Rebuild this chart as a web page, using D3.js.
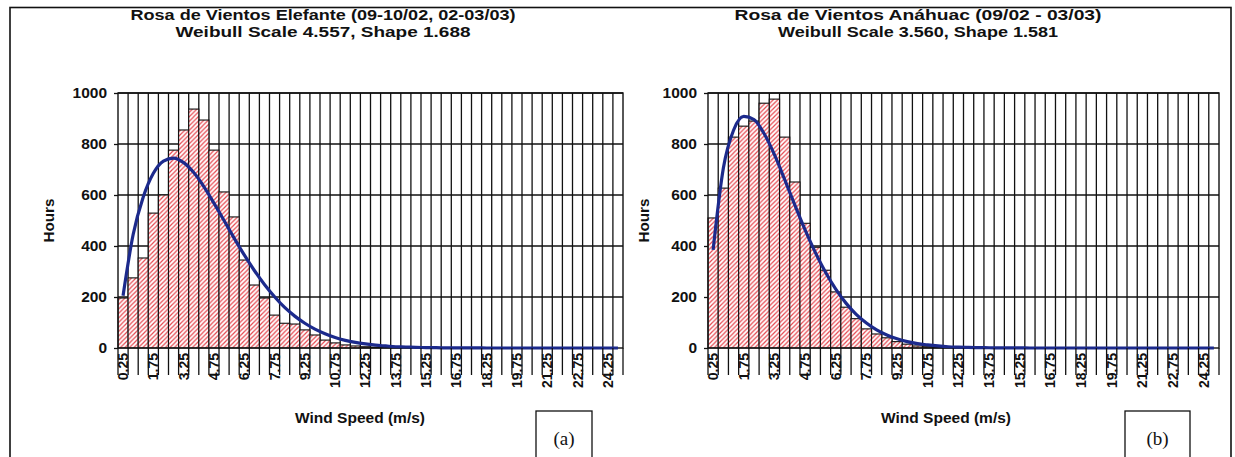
<!DOCTYPE html>
<html>
<head>
<meta charset="utf-8">
<script src="https://cdn.jsdelivr.net/npm/d3@7"></script>
<style>
  html, body { margin: 0; padding: 0; background: #fff; }
  svg { display: block; }
  text { font-family: "Liberation Sans", Arial, sans-serif; font-weight: 700; fill: #111; }
  text.tag { font-family: "Liberation Serif", "Times New Roman", serif; font-weight: 400; }
</style>
</head>
<body>
<svg id="fig" width="1235" height="457"></svg>
<script>
// Wind speed bins (m/s), bin centres
const speedBins = [0.25, 0.75, 1.25, 1.75, 2.25, 2.75, 3.25, 3.75, 4.25, 4.75,
  5.25, 5.75, 6.25, 6.75, 7.25, 7.75, 8.25, 8.75, 9.25, 9.75,
  10.25, 10.75, 11.25, 11.75, 12.25, 12.75, 13.25, 13.75, 14.25, 14.75,
  15.25, 15.75, 16.25, 16.75, 17.25, 17.75, 18.25, 18.75, 19.25, 19.75,
  20.25, 20.75, 21.25, 21.75, 22.25, 22.75, 23.25, 23.75, 24.25, 24.75];

// Labelled bins on the category axis
const speedTickLabels = ["0.25", "1.75", "3.25", "4.75", "6.25", "7.75", "9.25", "10.75",
  "12.25", "13.75", "15.25", "16.75", "18.25", "19.75", "21.25", "22.75", "24.25"];

const hoursTicks = [0, 200, 400, 600, 800, 1000];

// Elefante: measured hours per bin and fitted Weibull curve
const elefanteHours = [196, 275, 353, 529, 600, 776, 855, 937, 894, 776,
  612, 514, 345, 247, 196, 129, 97, 94, 71, 51,
  31, 20, 12, 8, 5, 3, 2, 1, 1, 0,
  0, 0, 0, 0, 0, 0, 0, 0, 0, 0,
  0, 0, 0, 0, 0, 0, 0, 0, 0, 0];
const elefanteFit = [205, 445, 592, 685, 733, 745, 727, 688, 633, 568,
  500, 431, 365, 304, 249, 201, 159, 125, 97, 74,
  56, 41, 30, 22, 16, 11, 8, 5, 4, 2.5,
  1.7, 1.1, 0.7, 0.5, 0.3, 0.2, 0.1, 0.1, 0, 0,
  0, 0, 0, 0, 0, 0, 0, 0, 0, 0];

// Anáhuac: measured hours per bin and fitted Weibull curve
const anahuacHours = [510, 627, 827, 870, 890, 960, 976, 827, 651, 489,
  395, 305, 220, 160, 115, 75, 55, 40, 25, 15,
  8, 5, 3, 2, 1, 1, 0, 0, 0, 0,
  0, 0, 0, 0, 0, 0, 0, 0, 0, 0,
  0, 0, 0, 0, 0, 0, 0, 0, 0, 0];
const anahuacFit = [385, 705, 854, 908, 896, 840, 758, 661, 560, 463,
  375, 297, 231, 176, 132, 98, 71, 51, 36, 25,
  17, 12, 8, 5, 3.4, 2.2, 1.4, 0.9, 0.6, 0.4,
  0.2, 0.1, 0.1, 0, 0, 0, 0, 0, 0, 0,
  0, 0, 0, 0, 0, 0, 0, 0, 0, 0];

const panels = [
  {
    id: "elefante",
    title1: "Rosa de Vientos Elefante (09-10/02, 02-03/03)",
    title2: "Weibull Scale 4.557, Shape 1.688",
    titleWidths: [385, 295],
    hours: elefanteHours, fit: elefanteFit,
    left: 118, right: 623, titleX: 323, hoursX: 48, xTitleX: 360,
    tag: "(a)", tagBox: [536, 411, 56, 60]
  },
  {
    id: "anahuac",
    title1: "Rosa de Vientos Anáhuac (09/02 - 03/03)",
    title2: "Weibull Scale 3.560, Shape 1.581",
    titleWidths: [367, 280],
    hours: anahuacHours, fit: anahuacFit,
    left: 708, right: 1219, titleX: 918, hoursX: 643, xTitleX: 946,
    tag: "(b)", tagBox: [1125, 411, 65, 60]
  }
];

const svg = d3.select("#fig");
const plotTop = 93, plotBottom = 348;

// hatch fill used by the histogram columns
const defs = svg.append("defs");
const pat = defs.append("pattern")
  .attr("id", "hatch")
  .attr("patternUnits", "userSpaceOnUse")
  .attr("width", 4.5).attr("height", 4.5);
pat.append("rect").attr("width", 4.5).attr("height", 4.5).attr("fill", "#fff");
pat.append("path")
  .attr("d", "M-1,5.5 L5.5,-1 M-1,1 L1,-1 M3.5,5.5 L5.5,3.5")
  .attr("stroke", "#e6474f").attr("stroke-width", 1.2);

// outer frame
svg.append("rect")
  .attr("x", 10).attr("y", 7.5).attr("width", 1221).attr("height", 470)
  .attr("fill", "none").attr("stroke", "#111").attr("stroke-width", 1.6);

panels.forEach(p => {
  const g = svg.append("g").attr("class", p.id);

  const x = d3.scaleBand().domain(speedBins).range([p.left, p.right]).padding(0);
  const y = d3.scaleLinear().domain([0, 1000]).range([plotBottom, plotTop]);
  const bw = x.bandwidth();

  // titles
  [p.title1, p.title2].forEach((t, k) => {
    g.append("text").attr("x", p.titleX).attr("y", 20 + 17 * k)
      .attr("text-anchor", "middle").attr("font-size", 15.5)
      .attr("textLength", p.titleWidths[k]).attr("lengthAdjust", "spacingAndGlyphs")
      .text(t);
  });

  // horizontal gridlines
  g.append("g").selectAll("line").data(hoursTicks.filter(d => d > 0)).join("line")
    .attr("x1", p.left).attr("x2", p.right)
    .attr("y1", d => y(d)).attr("y2", d => y(d))
    .attr("stroke", "#111").attr("stroke-width", 1.4);

  // vertical gridlines at every bin boundary
  g.append("g").selectAll("line").data(speedBins.slice(1)).join("line")
    .attr("x1", d => x(d)).attr("x2", d => x(d))
    .attr("y1", plotTop).attr("y2", plotBottom)
    .attr("stroke", "#111").attr("stroke-width", 1.3);

  // columns
  g.append("g").selectAll("rect").data(p.hours.map((v, i) => ({ bin: speedBins[i], v })))
    .join("rect")
    .filter(d => d.v > 0)
    .attr("x", d => x(d.bin)).attr("width", bw)
    .attr("y", d => y(d.v)).attr("height", d => y(0) - y(d.v))
    .attr("fill", "url(#hatch)").attr("stroke", "#111").attr("stroke-width", 1.1);

  // plot border
  g.append("rect").attr("x", p.left).attr("y", plotTop)
    .attr("width", p.right - p.left).attr("height", plotBottom - plotTop)
    .attr("fill", "none").attr("stroke", "#111").attr("stroke-width", 1.4);

  // fitted Weibull curve
  const line = d3.line()
    .x((d, i) => x(speedBins[i]) + bw / 2)
    .y(d => y(d))
    .curve(d3.curveMonotoneX);
  g.append("path").datum(p.fit).attr("d", line)
    .attr("fill", "none").attr("stroke", "#1c2a8c").attr("stroke-width", 3.2);

  // y axis
  const yAxis = d3.axisLeft(y).tickValues(hoursTicks).tickSize(4).tickPadding(7)
    .tickFormat(d3.format("d"));
  const ya = g.append("g").attr("transform", `translate(${p.left},0)`).call(yAxis);
  ya.attr("font-family", null).attr("font-size", null);
  ya.select(".domain").remove();
  ya.selectAll("line").attr("stroke", "#111").attr("stroke-width", 1.3);
  ya.selectAll("text").attr("font-size", 15.5).attr("fill", "#111");

  // x axis: tick marks at bin boundaries, labels on every third bin
  g.append("g").selectAll("line").data(speedBins.concat([null])).join("line")
    .attr("x1", (d, i) => p.left + i * bw).attr("x2", (d, i) => p.left + i * bw)
    .attr("y1", plotBottom).attr("y2", plotBottom + 27)
    .attr("stroke", "#111").attr("stroke-width", 1.3);

  const labelled = speedBins.filter(b => speedTickLabels.includes(b.toFixed(2)));
  const xAxis = d3.axisBottom(x).tickValues(labelled).tickSize(0)
    .tickFormat(d => d.toFixed(2));
  const xa = g.append("g").attr("transform", `translate(0,${plotBottom})`).call(xAxis);
  xa.attr("font-family", null).attr("font-size", null);
  xa.select(".domain").remove();
  xa.selectAll("text")
    .attr("transform", "rotate(-90)")
    .attr("text-anchor", "end")
    .attr("x", -5).attr("y", 0).attr("dy", "0.36em")
    .attr("font-size", 14).attr("fill", "#111");

  // axis titles
  g.append("text")
    .attr("transform", `translate(${p.hoursX},${(plotTop + plotBottom) / 2}) rotate(-90)`)
    .attr("text-anchor", "middle").attr("dy", "0.36em")
    .attr("font-size", 15.5).attr("textLength", 44).attr("lengthAdjust", "spacingAndGlyphs")
    .text("Hours");
  g.append("text").attr("x", p.xTitleX).attr("y", 423)
    .attr("text-anchor", "middle").attr("font-size", 15.5)
    .attr("textLength", 130).attr("lengthAdjust", "spacingAndGlyphs")
    .text("Wind Speed (m/s)");

  // panel tag
  g.append("rect").attr("x", p.tagBox[0]).attr("y", p.tagBox[1])
    .attr("width", p.tagBox[2]).attr("height", p.tagBox[3])
    .attr("fill", "#fff").attr("stroke", "#111").attr("stroke-width", 1.3);
  g.append("text").attr("class", "tag")
    .attr("x", p.tagBox[0] + p.tagBox[2] / 2).attr("y", 445)
    .attr("text-anchor", "middle").attr("font-size", 19)
    .text(p.tag);
});
</script>
</body>
</html>
